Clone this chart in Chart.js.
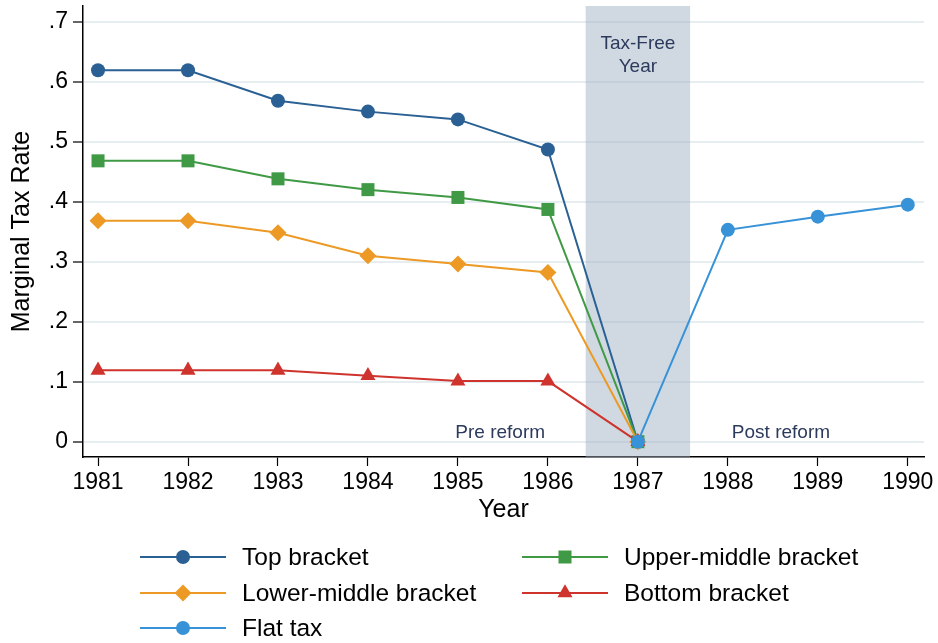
<!DOCTYPE html>
<html>
<head>
<meta charset="utf-8">
<script src="https://cdn.jsdelivr.net/npm/chart.js"></script>
<style>
  body { margin: 0; background: #fff; }
  #wrap { width: 938px; height: 643px; position: relative; }
</style>
</head>
<body>
<div id="wrap"><canvas id="taxChart"></canvas></div>
<script>
// data
const years = [1981, 1982, 1983, 1984, 1985, 1986, 1987, 1988, 1989, 1990];
const topBracket    = [0.619, 0.619, 0.568, 0.550, 0.537, 0.487, 0, null, null, null];
const upperMiddle   = [0.468, 0.468, 0.438, 0.420, 0.407, 0.387, 0, null, null, null];
const lowerMiddle   = [0.368, 0.368, 0.348, 0.310, 0.296, 0.282, 0, null, null, null];
const bottomBracket = [0.119, 0.119, 0.119, 0.110, 0.101, 0.101, 0, null, null, null];
const flatTax       = [null, null, null, null, null, null, 0, 0.353, 0.375, 0.395];
const seriesNames = ['Top bracket', 'Upper-middle bracket', 'Lower-middle bracket', 'Bottom bracket', 'Flat tax'];
const yTicks = [0, 0.1, 0.2, 0.3, 0.4, 0.5, 0.6, 0.7];
const taxFreeBand = [1986.42, 1987.58];
const notes = [
    { text: 'Tax-Free', x: 1987, y: 0.663 },
    { text: 'Year', x: 1987, y: 0.624 },
    { text: 'Pre reform', x: 1985.47, y: 0.015 },
    { text: 'Post reform', x: 1988.59, y: 0.015 }
];

const FONT = '"Liberation Sans", Arial, sans-serif';
Chart.defaults.font.family = FONT;
Chart.defaults.color = '#000';

function pts(values) {
    return years.map((yr, i) => ({ x: yr, y: values[i] }));
}

function series(i, values, color, style, radius) {
    return {
        label: seriesNames[i],
        data: pts(values),
        borderColor: color,
        backgroundColor: color,
        borderWidth: 2,
        pointStyle: style,
        pointRadius: radius,
        pointHoverRadius: radius,
        pointBorderWidth: 0,
        order: 5 - i,
        spanGaps: false
    };
}

// little marker drawer for the legend
function drawMarker(ctx, style, x, y, r) {
    ctx.beginPath();
    if (style === 'circle') {
        ctx.arc(x, y, r, 0, Math.PI * 2);
    } else if (style === 'rect') {
        const s = r * Math.SQRT1_2;
        ctx.rect(x - s, y - s, 2 * s, 2 * s);
    } else if (style === 'rectRot') {
        ctx.moveTo(x, y - r); ctx.lineTo(x + r, y); ctx.lineTo(x, y + r); ctx.lineTo(x - r, y);
    } else if (style === 'triangle') {
        ctx.moveTo(x, y - r);
        ctx.lineTo(x + r * Math.sin(Math.PI / 3), y + r / 2);
        ctx.lineTo(x - r * Math.sin(Math.PI / 3), y + r / 2);
    }
    ctx.closePath();
    ctx.fill();
}

const extras = {
    id: 'extras',
    beforeDatasetsDraw(chart) {
        const { ctx, chartArea, scales } = chart;
        const x0 = scales.x.getPixelForValue(taxFreeBand[0]);
        const x1 = scales.x.getPixelForValue(taxFreeBand[1]);
        ctx.save();
        ctx.fillStyle = 'rgba(157,176,195,0.48)';
        ctx.fillRect(x0, chartArea.top, x1 - x0, chartArea.bottom - chartArea.top);
        ctx.fillStyle = '#2c3a5c';
        ctx.font = '19px ' + FONT;
        ctx.textAlign = 'center';
        ctx.textBaseline = 'middle';
        notes.forEach(n => {
            ctx.fillText(n.text, scales.x.getPixelForValue(n.x), scales.y.getPixelForValue(n.y));
        });
        ctx.restore();
    },
    afterDraw(chart) {
        const ctx = chart.ctx;
        const slots = [
            [140, 557], [522, 557],
            [140, 593], [522, 593],
            [140, 628]
        ];
        ctx.save();
        ctx.font = '24.5px ' + FONT;
        ctx.textBaseline = 'middle';
        ctx.textAlign = 'left';
        chart.data.datasets.forEach((ds, i) => {
            const [lx, ly] = slots[i];
            ctx.strokeStyle = ds.borderColor;
            ctx.fillStyle = ds.borderColor;
            ctx.lineWidth = 2;
            ctx.beginPath();
            ctx.moveTo(lx, ly);
            ctx.lineTo(lx + 86, ly);
            ctx.stroke();
            drawMarker(ctx, ds.pointStyle, lx + 43, ly, ds.pointRadius);
            ctx.fillStyle = '#000';
            ctx.fillText(ds.label, lx + 102, ly + 1);
        });
        ctx.restore();
    }
};

const ctx = document.getElementById('taxChart').getContext('2d');
const taxChart = new Chart(ctx, {
    type: 'line',
    data: {
        datasets: [
            series(0, topBracket, '#2a6093', 'circle', 7),
            series(1, upperMiddle, '#409a45', 'rect', 9.2),
            series(2, lowerMiddle, '#ec9a25', 'rectRot', 8.5),
            series(3, bottomBracket, '#cf332d', 'triangle', 8.7),
            series(4, flatTax, '#3792d8', 'circle', 7)
        ]
    },
    options: {
        responsive: true,
        maintainAspectRatio: false,
        animation: false,
        layout: { autoPadding: false, padding: { top: 6, right: 14, bottom: 118, left: 0 } },
        plugins: {
            legend: { display: false },
            tooltip: { enabled: false }
        },
        scales: {
            x: {
                type: 'linear',
                min: 1980.833,
                max: 1990.18,
                afterBuildTicks: scale => { scale.ticks = years.map(v => ({ value: v })); },
                afterFit: scale => { scale.height = 68; scale.paddingLeft = 0; scale.paddingRight = 0; },
                ticks: {
                    font: { size: 23 },
                    padding: 3,
                    maxRotation: 0,
                    callback: v => String(v)
                },
                grid: { drawOnChartArea: false, tickLength: 9, tickColor: '#000', tickWidth: 1.2 },
                border: { color: '#000', width: 1.5 },
                title: { display: true, text: 'Year', font: { size: 25 }, padding: 0 }
            },
            y: {
                min: -0.0255,
                max: 0.726,
                afterBuildTicks: scale => { scale.ticks = yTicks.map(v => ({ value: v })); },
                afterFit: scale => { scale.width = 83; scale.paddingTop = 0; scale.paddingBottom = 0; },
                ticks: {
                    font: { size: 23 },
                    padding: 5,
                    callback: v => v === 0 ? '0' : String(Math.round(v * 10) / 10).replace(/^0/, '')
                },
                grid: { color: '#e7eef2', lineWidth: 2, tickLength: 10, tickColor: '#000', tickWidth: 1.2 },
                border: { color: '#000', width: 1.5 },
                title: { display: true, text: 'Marginal Tax Rate', font: { size: 25 }, padding: { top: 7 } }
            }
        }
    },
    plugins: [extras]
});
</script>
</body>
</html>
